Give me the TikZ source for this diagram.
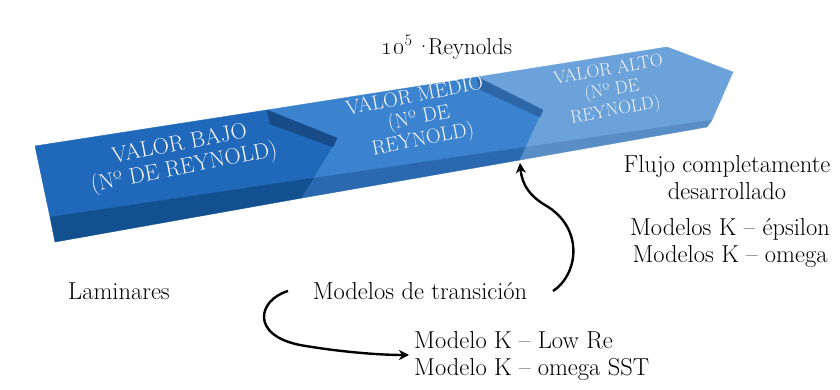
\documentclass[tikz,border=0pt]{standalone}
\usetikzlibrary{arrows.meta}
\definecolor{ltop}{HTML}{1F68BA}
\definecolor{lfront}{HTML}{13508F}
\definecolor{lwall}{HTML}{174C88}
\definecolor{mtop}{HTML}{3B83CF}
\definecolor{mfront}{HTML}{2A69B0}
\definecolor{mwall}{HTML}{2D66A6}
\definecolor{rtop}{HTML}{6BA2DA}
\definecolor{rfront}{HTML}{588DC5}
\definecolor{segtext}{HTML}{F4F4F6}
\tikzset{
  lbl/.style={font=\fontsize{24.5}{27}\selectfont, align=center, text=black, inner sep=0pt},
  segtxt/.style={text=segtext, align=center, inner sep=0pt},
  conn/.style={line width=2.4pt, black, -{Stealth[length=10pt,width=10pt,inset=3pt]}},
  face/.style={fill=#1, draw=#1, line width=0.4pt, line join=round}
}
\begin{document}
\begin{tikzpicture}[x=1pt,y=-1pt]
\useasboundingbox (0,0) rectangle (840,390);
\fill[white] (0,0) rectangle (840,390);

% left segment
\path[face=ltop] (35,146) -- (267,110) -- (337,140) -- (314,178) -- (50,217) -- cycle;
\path[face=lfront] (50,217) -- (314,178) -- (302,198) -- (55,242) -- cycle;
% middle segment
\path[face=mtop] (267,110) -- (477,77) -- (543,110) -- (526,147) -- (314,178) -- (337,140) -- cycle;
\path[face=mfront] (314,178) -- (526,147) -- (520,160) -- (302,198) -- cycle;
% right segment
\path[face=rtop] (477,77) -- (667,47) -- (733,72) -- (712,120) -- (526,147) -- (543,110) -- cycle;
\path[face=rfront] (526,147) -- (712,120) -- (707,127) -- (520,160) -- cycle;
% notch walls
\path[face=lwall] (267,110) -- (337,138) -- (333,147) -- (270,124) -- cycle;
\path[face=mwall] (477,77) -- (543,110) -- (540,117) -- (479,89) -- cycle;

% segment texts
\node[segtxt, font=\fontsize{22.5}{24}\selectfont, rotate=11] (bajo) at (182,157) {VALOR BAJO\\(Nº DE REYNOLD)};
\node[segtxt, font=\fontsize{20.5}{22}\selectfont, rotate=11] (medio) at (419,119) {VALOR MEDIO\\(Nº DE\\REYNOLD)};
\node[segtxt, font=\fontsize{18}{20.5}\selectfont, rotate=10] (alto) at (612,91) {VALOR ALTO\\(Nº DE\\REYNOLD)};

% labels
\node[lbl, font=\fontsize{23}{27}\selectfont] (reyn) at (447,47) {\oldstylenums{10}\textsuperscript{5}\hspace{3pt}·\hspace{-4pt}Reynolds};
\node[lbl] (flujo) at (727,178) {Flujo completamente\\desarrollado};
\node[lbl] (kmod) at (730,243) {Modelos K – épsilon\\Modelos K – omega};
\node[lbl] (lam) at (119,291) {Laminares};
\node[lbl] (trans) at (420,291) {Modelos de transición};
\node[lbl, align=left, anchor=west] (lowre) at (414,356) {Modelo K – Low Re\\Modelo K – omega SST};

% connectors
\coordinate (a1s) at (553,291);
\coordinate (a1e) at (520,163);
\draw[conn] (a1s) .. controls (578,275) and (585,228) .. (545,205) .. controls (530,196) and (522,185) .. (a1e);
\coordinate (a2s) at (288,291);
\coordinate (a2e) at (409,355);
\draw[conn] (a2s) .. controls (258,300) and (250,335) .. (300,345) .. controls (340,352) and (380,355) .. (a2e);
\end{tikzpicture}
\end{document}
